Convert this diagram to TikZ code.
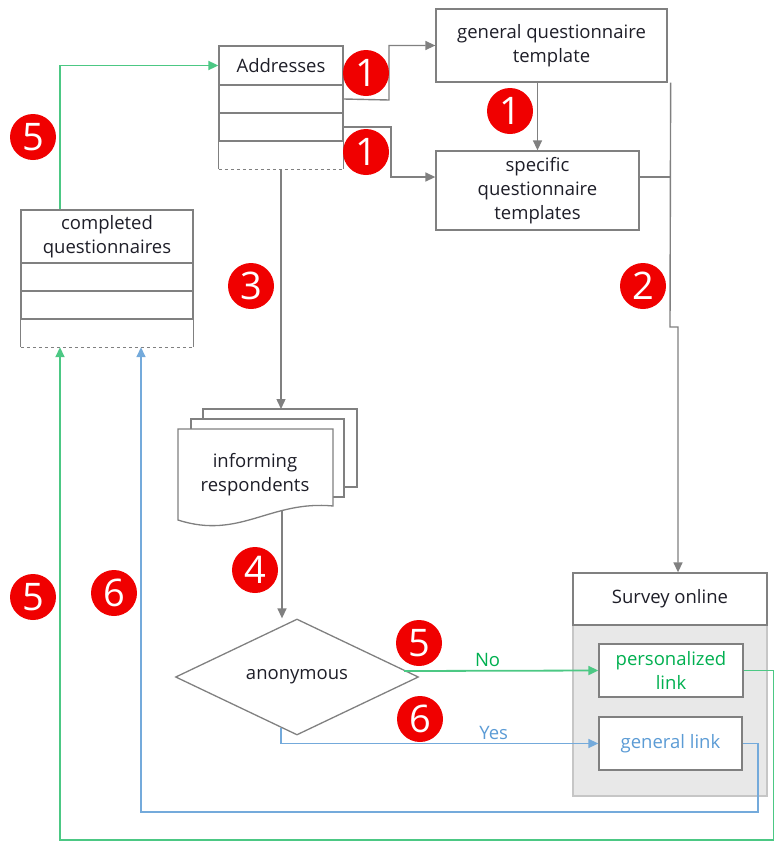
\documentclass[tikz,border=0pt]{standalone}
\usepackage{fontspec}
\setmainfont{Open Sans}
\usetikzlibrary{arrows.meta,calc,positioning,shapes.geometric}
\definecolor{lgray}{RGB}{128,128,128}
\definecolor{qgreen}{RGB}{0,176,80}
\definecolor{qblue}{RGB}{91,155,213}
\definecolor{qred}{RGB}{240,0,0}
\definecolor{qtext}{RGB}{30,30,40}
\tikzset{
  txt/.style={text=qtext,align=center,font=\fontsize{18.5}{24}\selectfont},
  box/.style={txt,draw=lgray,line width=1.3pt,fill=white,inner sep=0pt},
  row/.style={draw=lgray,line width=1.3pt,minimum height=28pt,inner sep=0pt},
  num/.style={circle,fill=qred,text=white,inner sep=0pt,minimum size=46pt,font=\fontsize{38}{38}\selectfont},
  tip/.style={-{Triangle[length=10pt,width=9pt]}},
  flow/.style={draw=lgray,line width=1.4pt},
  gflow/.style={draw=qgreen!70,line width=1.8pt},
  bflow/.style={draw=qblue!85,line width=1.6pt}
}
\begin{document}
\begin{tikzpicture}[x=1pt,y=-1pt]
\useasboundingbox (0,0) rectangle (774,841);
% addresses
\node[box,minimum width=124pt,minimum height=39pt] (addr) at (281,65.5) {Addresses};
\node[row,minimum width=124pt] (addr1) at (281,99) {};
\node[row,minimum width=124pt] (addr2) at (281,127) {};
\node[minimum width=124pt,minimum height=28pt,inner sep=0pt] (addr3) at (281,155) {};
\draw[lgray,line width=1.3pt] (addr3.south west) -- (addr3.north west) (addr3.north east) -- (addr3.south east);
\draw[lgray,line width=1.3pt,dashed] (addr3.south west) -- (addr3.south east);
% completed questionnaires
\node[box,minimum width=172pt,minimum height=53pt] (cq) at (107,236.5) {completed\\questionnaires};
\node[row,minimum width=172pt] (cq1) at (107,277) {};
\node[row,minimum width=172pt] (cq2) at (107,305) {};
\node[minimum width=172pt,minimum height=28pt,inner sep=0pt] (cq3) at (107,333) {};
\draw[lgray,line width=1.3pt] (cq3.south west) -- (cq3.north west) (cq3.north east) -- (cq3.south east);
\draw[lgray,line width=1.3pt,dashed] (cq3.south west) -- (cq3.south east);
% templates
\node[box,minimum width=231pt,minimum height=73pt] (gen) at (551.5,45.5) {general questionnaire\\template};
\node[box,minimum width=203pt,minimum height=79pt] (spec) at (537.5,190.5) {specific\\questionnaire\\templates};
% informing respondents
\draw[lgray,line width=1.3pt,fill=white] (203,409) rectangle (357,487);
\draw[lgray,line width=1.3pt,fill=white] (191,419) rectangle (344,497);
\draw[lgray,line width=1.3pt,fill=white] (178,429) -- (333,429) -- (333,506)
  .. controls (270,500) and (240,540) .. (178,520) -- cycle;
\node[txt] (inform) at (255,475) {informing\\respondents};
% decision
\node[txt,draw=lgray,line width=1.3pt,diamond,aspect=2.1,inner sep=0pt,minimum width=243pt,minimum height=116pt] (anon) at (297,677) {anonymous};
% survey online
\draw[draw=lgray!45,line width=1.3pt,fill=lgray!18] (573,625) rectangle (767,796);
\node[box,minimum width=194pt,minimum height=52pt] (survey) at (670,599) {Survey online};
\node[box,text=qgreen,minimum width=144pt,minimum height=53pt] (plink) at (671,670.5) {personalized\\link};
\node[box,text=qblue,minimum width=143pt,minimum height=53pt] (glink) at (670.5,743.5) {general link};
% corners
\coordinate (k1) at (389,100);
\coordinate (k2) at (391,127);
\coordinate (bus) at (670,177);
\coordinate (j1) at (670,327);
\coordinate (j2) at (678,327);
\coordinate (doctop) at (281,409);
\coordinate (docbot) at (282,511);
\coordinate (nostart) at (404,671);
\coordinate (yesstart) at (281,728);
\coordinate (gcorner) at (774,840);
\coordinate (gleft) at (60,840);
\coordinate (bcorner) at (758,812);
\coordinate (bleft) at (141,812);
% gray flow
\draw[flow,tip] (addr1.east) -- (k1) |- (gen.west);
\draw[flow,tip] (addr2.east) -- (k2) |- ([yshift=13.5pt]spec.west);
\draw[flow,tip] (spec.north |- gen.south) -- (spec.north);
\draw[flow] ([yshift=13.5pt]spec.east) -- (bus);
\draw[flow,tip] ([xshift=3pt]gen.south east) -- (j1) -- (j2) -- (j2 |- survey.north);
\draw[flow,tip] (addr3.south) -- (doctop);
\draw[flow,tip] (docbot) -- (docbot |- anon.north);
% green and blue flow
\draw[gflow,tip] (nostart) -- (plink.west) node[pos=0.43,above=0pt,txt,text=qgreen] {No};
\draw[bflow,tip] (yesstart) |- (glink.west) node[pos=0.835,above=0pt,txt,text=qblue] {Yes};
\draw[gflow,tip] (plink.east) -| (gcorner) -- (gleft) -- (gleft |- cq3.south);
\draw[bflow,tip] (glink.east) -| (bcorner) -- (bleft) -- (bleft |- cq3.south);
\draw[gflow,tip] (gleft |- cq.north) |- (addr.west);
% numbers
\node[num] (n1a) at (366,73) {1};
\node[num] (n1b) at (366,152) {1};
\node[num] (n1c) at (510,111) {1};
\node[num] (n2) at (643,286) {2};
\node[num] (n3) at (251,286) {3};
\node[num] (n4) at (255,570) {4};
\node[num] (n5a) at (33,137) {5};
\node[num] (n5b) at (419,643) {5};
\node[num] (n6b) at (420,719) {6};
\node[num] (n5c) at (33,597) {5};
\node[num] (n6a) at (114,593) {6};
\end{tikzpicture}
\end{document}
